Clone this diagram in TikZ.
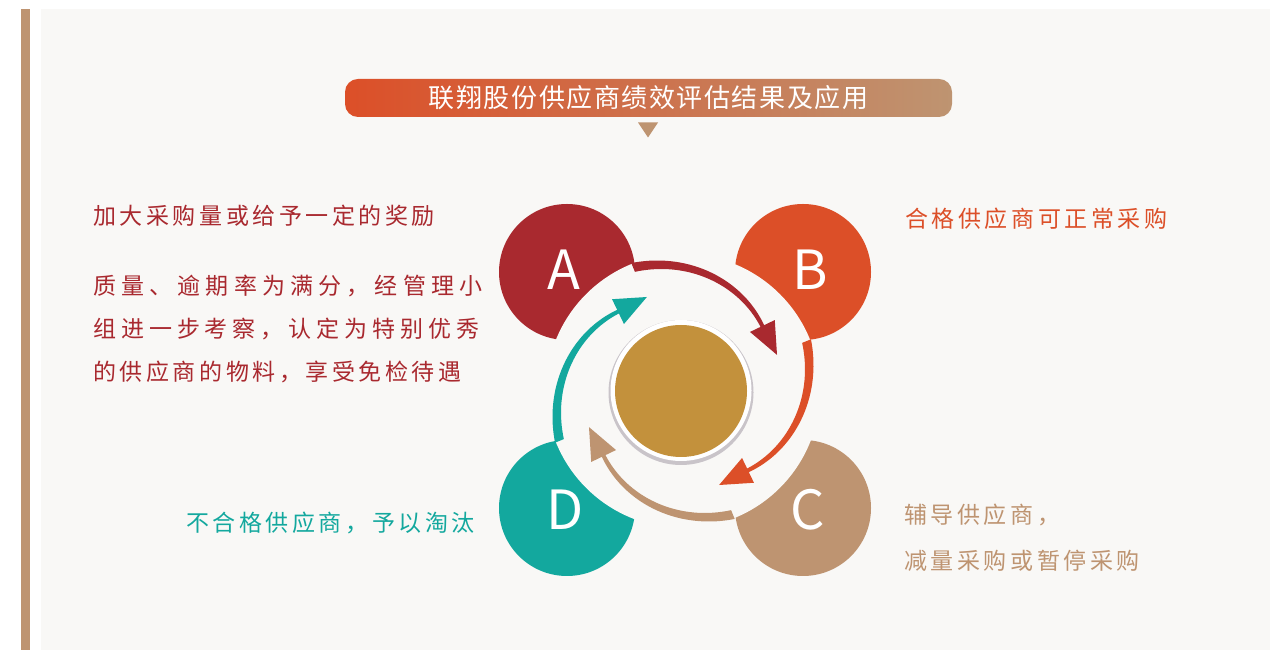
\documentclass[tikz,border=0pt]{standalone}
\usepackage{fontspec}
\newfontfamily\cjk{Noto Sans CJK SC}
\definecolor{colA}{HTML}{A9292F}
\definecolor{colB}{HTML}{DC4F28}
\definecolor{colC}{HTML}{BE9471}
\definecolor{colD}{HTML}{13A89E}
\definecolor{gold}{HTML}{C3913C}
\definecolor{paper}{HTML}{F9F8F6}
\definecolor{rim}{HTML}{C9C4C9}
\begin{document}
\begin{tikzpicture}[x=1pt,y=1pt,
  note/.style={inner sep=0pt, anchor=base west,
    font=\cjk\fontsize{23}{43}\selectfont\addfontfeature{LetterSpace=15.5}},
  letter/.style={inner sep=0pt, anchor=base, text=white,
    font=\cjk\fontsize{54}{54}\selectfont}]
\useasboundingbox (0,0) rectangle (1282,650);
\fill[white] (0,0) rectangle (1282,650);
\fill[paper] (41,0) rectangle (1270,641);
\fill[colC] (21,0) rectangle (30,641);

% title bar
\shade[left color=colB, right color=colC, rounded corners=13pt] (345,533) rectangle (952,571);
\node[inner sep=0pt, anchor=base, text=white,
  font=\cjk\fontsize{26}{26}\selectfont\addfontfeature{LetterSpace=6}] (title) at (648.5,542) {联翔股份供应商绩效评估结果及应用};
\fill[colC] (638,527.5) -- (658,527.5) -- (648,512.5) -- cycle;

% four circles, cut by the ring
\fill[colA] (567,378) circle (68pt);
\fill[colB] (803,378) circle (68pt);
\fill[colC] (803,142) circle (68pt);
\fill[colD] (567,142) circle (68pt);
\fill[paper] (683,259) circle (137pt);

% curved arrows
\foreach \turn/\col in {0/colA,-90/colB,-180/colC,-270/colD}{
\begin{scope}[shift={(683,259)}, rotate=\turn]
\fill[\col] plot[domain=0:1, samples=40] ({112-74*\x}:{138-34*\x})
  -- plot[domain=1:0, samples=40] ({112-74*\x}:{128.5-28.5*\x}) -- cycle;
\fill[\col] (41.4:89.3) -- (21:100.7) -- (37.7:116) -- cycle;
\end{scope}
}

% centre disc
\fill[rim] (681,257.5) circle (72.5pt);
\fill[white] (681,259.5) circle (70.5pt);
\fill[gold] (681,259) circle (66pt);

\node[letter] (A) at (564,360) {A};
\node[letter] (B) at (810,360) {B};
\node[letter] (C) at (808,120) {C};
\node[letter] (D) at (565,120) {D};

% texts
\node[note, text=colA] (rewardA) at (93,425) {加大采购量或给予一定的奖励};
\node[note, text=colA, anchor=north west, align=left] (detailA) at (93,375.5)
  {{\addfontfeature{LetterSpace=22.5}质量、逾期率为满分，经管理小}\\
   {\addfontfeature{LetterSpace=21.5}组进一步考察，认定为特别优秀}\\
   的供应商的物料，享受免检待遇};
\node[note, text=colB] (textB) at (905,422) {合格供应商可正常采购};
\node[note, text=colC, anchor=north west, align=left] (textC) at (904,146.7)
  {辅导供应商，\\[3.5pt]减量采购或暂停采购};
\node[note, text=colD, anchor=base east] (textD) at (475,118) {不合格供应商，予以淘汰};
\end{tikzpicture}
\end{document}
